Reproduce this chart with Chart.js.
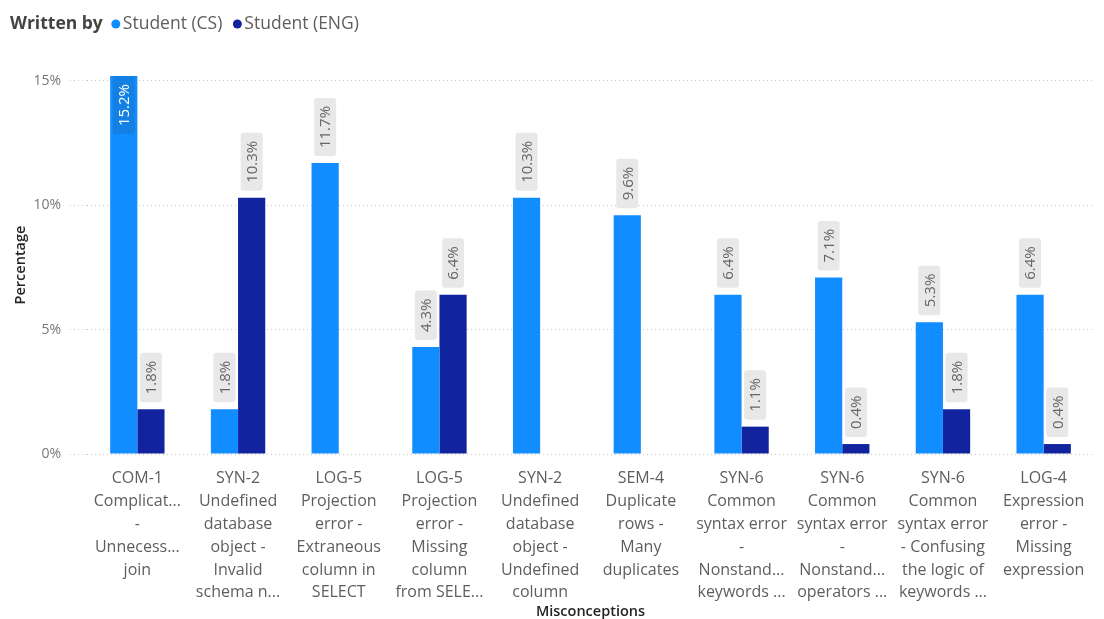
<!DOCTYPE html>
<html>
<head>
<meta charset="utf-8">
<script src="https://cdn.jsdelivr.net/npm/chart.js@4/dist/chart.umd.min.js"></script>
<style>
  html, body { margin: 0; padding: 0; background: #fff; overflow: hidden; }
  canvas { display: block; }
</style>
</head>
<body>
<canvas id="chart" width="1104" height="619"></canvas>
<script>
// Misconception categories (multi-line tick labels)
const categories = [
  ['COM-1', 'Complicat...', '-', 'Unnecess...', 'join'],
  ['SYN-2', 'Undefined', 'database', 'object -', 'Invalid', 'schema n...'],
  ['LOG-5', 'Projection', 'error -', 'Extraneous', 'column in', 'SELECT'],
  ['LOG-5', 'Projection', 'error -', 'Missing', 'column', 'from SELE...'],
  ['SYN-2', 'Undefined', 'database', 'object -', 'Undefined', 'column'],
  ['SEM-4', 'Duplicate', 'rows -', 'Many', 'duplicates'],
  ['SYN-6', 'Common', 'syntax error', '-', 'Nonstand...', 'keywords ...'],
  ['SYN-6', 'Common', 'syntax error', '-', 'Nonstand...', 'operators ...'],
  ['SYN-6', 'Common', 'syntax error', '- Confusing', 'the logic of', 'keywords ...'],
  ['LOG-4', 'Expression', 'error -', 'Missing', 'expression']
];

// Percentage of queries per misconception
const csValues  = [15.2, 1.8, 11.7, 4.3, 10.3, 9.6, 6.4, 7.1, 5.3, 6.4];
const engValues = [1.8, 10.3, null, 6.4, null, null, 1.1, 0.4, 1.8, 0.4];

const seriesNames  = ['Student (CS)', 'Student (ENG)'];
const seriesColors = ['#118DFF', '#12239E'];

const yTickValues = [0, 5, 10, 15];
const yMax = 15.2;

const legendTitle = 'Written by';
const xTitle = 'Misconceptions';
const yTitle = 'Percentage';

const FONT = "'Open Sans', 'Noto Sans', sans-serif";

// Rotated value labels on a grey tag above each bar
const valueLabels = {
  id: 'valueLabels',
  afterDatasetsDraw(chart) {
    const ctx = chart.ctx;
    const area = chart.chartArea;
    ctx.save();
    ctx.font = `15px ${FONT}`;
    chart.data.datasets.forEach((ds, di) => {
      const meta = chart.getDatasetMeta(di);
      meta.data.forEach((bar, i) => {
        const v = ds.data[i];
        if (v == null) return;
        const text = v.toFixed(1) + '%';
        const tw = ctx.measureText(text).width;
        const boxH = tw + 16, boxW = 22;
        let bottom = bar.y - 7;
        let top = bottom - boxH;
        let inside = false;
        if (top < area.top - 30) {
          inside = true;
          top = bar.y;
          bottom = top + boxH;
        }
        ctx.beginPath();
        ctx.fillStyle = inside ? '#1580E3' : '#E8E8E8';
        ctx.roundRect(bar.x - boxW / 2, top, boxW, boxH, 3);
        ctx.fill();
        ctx.save();
        ctx.translate(bar.x, (top + bottom) / 2);
        ctx.rotate(-Math.PI / 2);
        ctx.textAlign = 'center';
        ctx.textBaseline = 'middle';
        ctx.fillStyle = inside ? '#FFFFFF' : '#666666';
        ctx.fillText(text, 0, 1);
        ctx.restore();
      });
    });
    ctx.restore();
  }
};

// Legend row: bold caption followed by circle markers
const legendRow = {
  id: 'legendRow',
  afterDraw(chart) {
    const ctx = chart.ctx;
    const cy = 24;
    ctx.save();
    ctx.textBaseline = 'middle';
    ctx.textAlign = 'left';
    ctx.font = `bold 17.5px ${FONT}`;
    ctx.fillStyle = '#444444';
    ctx.fillText(legendTitle, 10, cy);
    let x = 10 + ctx.measureText(legendTitle).width + 13;
    ctx.font = `17.5px ${FONT}`;
    seriesNames.forEach((name, i) => {
      ctx.beginPath();
      ctx.fillStyle = seriesColors[i];
      ctx.arc(x, cy, 4.5, 0, Math.PI * 2);
      ctx.fill();
      ctx.fillStyle = '#605E5C';
      ctx.fillText(name, x + 7, cy);
      x += 7 + ctx.measureText(name).width + 15;
    });
    ctx.restore();
  }
};

new Chart(document.getElementById('chart'), {
  type: 'bar',
  data: {
    labels: categories,
    datasets: [
      { label: seriesNames[0], data: csValues, backgroundColor: seriesColors[0] },
      { label: seriesNames[1], data: engValues, backgroundColor: seriesColors[1] }
    ]
  },
  options: {
    responsive: false,
    animation: false,
    layout: { padding: { top: 76, right: 10, left: 0, bottom: 0 } },
    datasets: { bar: { categoryPercentage: 0.54, barPercentage: 1.0 } },
    plugins: {
      legend: { display: false },
      tooltip: { enabled: false }
    },
    scales: {
      x: {
        grid: { display: false },
        border: { display: false },
        ticks: {
          autoSkip: false,
          maxRotation: 0,
          minRotation: 0,
          padding: 5,
          color: '#605E5C',
          font: { family: FONT, size: 16, lineHeight: 1.43 }
        },
        title: {
          display: true,
          text: xTitle,
          color: '#252423',
          font: { family: FONT, size: 14.5, weight: '600', lineHeight: 1 },
          padding: { top: 0, bottom: 0 }
        },
        afterFit(scale) { scale.height = 165; }
      },
      y: {
        min: 0,
        max: yMax,
        afterBuildTicks(scale) { scale.ticks = yTickValues.map(v => ({ value: v })); },
        grid: {
          color: '#C8C8C8',
          lineWidth: 1,
          drawTicks: true,
          tickLength: 17,
          tickColor: '#C8C8C8',
          tickBorderDash: [1, 3]
        },
        border: { display: false, dash: [1, 3] },
        ticks: {
          padding: 9,
          color: '#777777',
          font: { family: FONT, size: 14 },
          callback: v => v + '%'
        },
        title: {
          display: true,
          text: yTitle,
          color: '#252423',
          font: { family: FONT, size: 14.5, weight: '600', lineHeight: 1.2 },
          padding: { top: 12, bottom: 0 }
        },
        afterFit(scale) { scale.width = 87; }
      }
    }
  },
  plugins: [valueLabels, legendRow]
});
</script>
</body>
</html>
